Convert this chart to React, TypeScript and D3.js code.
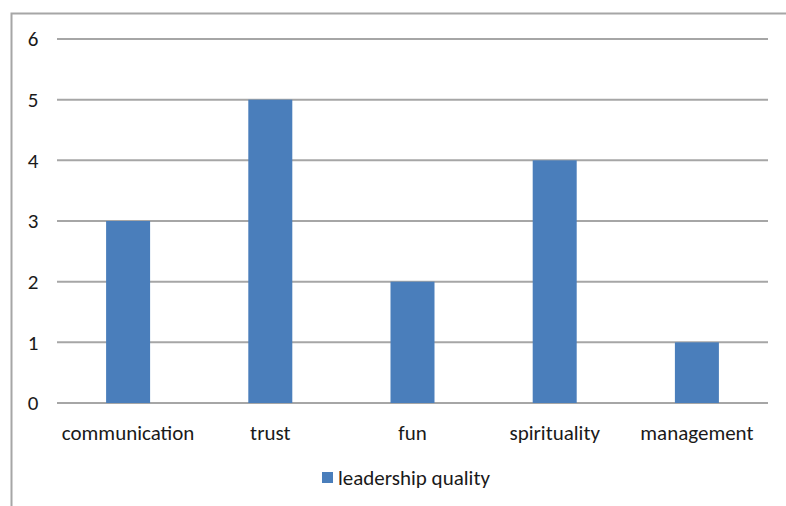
import React from "react";
import * as d3 from "d3";

const categories = ["communication", "trust", "fun", "spirituality", "management"];
const values = [3, 5, 2, 4, 1];
const yTicks = [0, 1, 2, 3, 4, 5, 6];
const seriesName = "leadership quality";

const W = 786, H = 506;
const FONT = "Carlito, 'Open Sans', 'Noto Sans', sans-serif";

export default function App() {
  const y = d3.scaleLinear().domain([0, 6]).range([403, 39]);
  const band = (768 - 57) / categories.length;
  const barW = 44;
  return (
    <svg width={W} height={H} style={{ position: "absolute", left: 0, top: 0, background: "#fff" }}>
      <rect x={0} y={0} width={W} height={H} fill="#fff" />
      <path d={`M11.5,${H}V13.5H${W}`} fill="none" stroke="#a6a6a6" strokeWidth={2} />
      {yTicks.map((t) => (
        <g key={t}>
          <line x1={57} x2={768} y1={y(t)} y2={y(t)} stroke="#a6a6a6" strokeWidth={2} />
          <text x={33} y={y(t)} dy="0.35em" textAnchor="middle" fontFamily={FONT} fontSize={21} fill="#1a1a1a">{t}</text>
        </g>
      ))}
      {categories.map((c, i) => {
        const cx = 57 + band * (i + 0.5);
        return (
          <g key={c}>
            <rect x={cx - barW / 2} y={y(values[i])} width={barW} height={y(0) - y(values[i])} fill="#4a7ebb" />
            <text x={cx} y={440} textAnchor="middle" fontFamily={FONT} fontSize={21} fill="#1a1a1a">{c}</text>
          </g>
        );
      })}
      <rect x={322} y={472} width={11} height={11} fill="#4a7ebb" />
      <text x={338} y={485} fontFamily={FONT} fontSize={21} fill="#1a1a1a">{seriesName}</text>
    </svg>
  );
}
